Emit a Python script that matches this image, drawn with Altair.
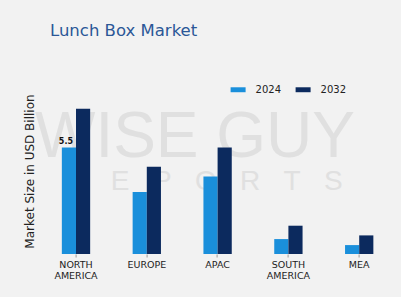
import altair as alt
import pandas as pd

# Market size by region, USD billion
regions = ["NORTH AMERICA", "EUROPE", "APAC", "SOUTH AMERICA", "MEA"]
years = ["2024", "2032"]
values_2024 = [5.5, 3.2, 4.0, 0.77, 0.46]
values_2032 = [7.5, 4.5, 5.5, 1.46, 0.96]
bar_colors = ["#1a8fdb", "#0c2a5e"]

rows = []
for region, v24, v32 in zip(regions, values_2024, values_2032):
    rows.append({"region": region, "year": "2024", "value": v24})
    rows.append({"region": region, "year": "2032", "value": v32})
df = pd.DataFrame(rows)

FONT = "DejaVu Sans"
NBSP = "\u00a0"

x_enc = alt.X(
    "region:N",
    sort=regions,
    title=None,
    scale=alt.Scale(paddingInner=0.6, paddingOuter=0.3),
    axis=alt.Axis(
        labelAngle=0,
        labelExpr="split(datum.label, ' ')",
        domain=False,
        ticks=True,
        tickSize=3,
        tickColor="#9a9a9a",
        labelFont=FONT,
        labelFontSize=9.5,
        labelColor="#222222",
        labelPadding=2,
        labelLineHeight=11,
    ),
)

y_enc = alt.Y(
    "value:Q",
    scale=alt.Scale(domain=[0, 8], nice=False),
    axis=alt.Axis(
        labels=False,
        ticks=False,
        domain=False,
        grid=False,
        title="Market Size in USD Billion",
        titleFont=FONT,
        titleFontSize=12,
        titleFontWeight="normal",
        titleColor="#222222",
        titlePadding=4,
        titleY=72,
    ),
)

# chart heading
heading = alt.Chart(pd.DataFrame({"t": ["Lunch Box Market"]})).mark_text(
    font=FONT, fontSize=16.5, color="#2b5797", align="left", baseline="alphabetic"
).encode(text="t:N", x=alt.value(9.4), y=alt.value(-63.5))

# faint brand watermark behind the bars
mark_big = alt.Chart(pd.DataFrame({"t": ["WISE GUY"]})).mark_text(
    font="Liberation Sans, sans-serif",
    fontSize=64,
    color="#e0e0e0",
    baseline="alphabetic",
    align="center",
).encode(text="t:N", x=alt.value(154.4), y=alt.value(58))

spaced = (NBSP * 3).join("REPORTS")
mark_small = alt.Chart(pd.DataFrame({"t": [spaced]})).mark_text(
    font="Liberation Sans, sans-serif",
    fontSize=28,
    color="#e0e0e0",
    baseline="alphabetic",
    align="center",
).encode(text="t:N", x=alt.value(164.4), y=alt.value(91))

bars = alt.Chart(df).mark_bar().encode(
    x=x_enc,
    xOffset=alt.XOffset("year:N", sort=years),
    y=y_enc,
    color=alt.Color(
        "year:N",
        sort=years,
        scale=alt.Scale(domain=years, range=bar_colors),
        legend=alt.Legend(
            title=None,
            orient="none",
            direction="horizontal",
            legendX=190,
            legendY=-17,
            symbolType="M-1,-0.33L1,-0.33L1,0.33L-1,0.33Z",
            symbolSize=225,
            symbolStrokeWidth=0,
            labelFont=FONT,
            labelFontSize=10,
            labelColor="#222222",
            labelOffset=10,
            columnPadding=14,
            padding=0,
        ),
    ),
)

label = (
    alt.Chart(df)
    .transform_filter("datum.region == 'NORTH AMERICA' && datum.year == '2024'")
    .mark_text(font=FONT, fontSize=8, fontWeight="bold", color="#111111",
               baseline="bottom", dx=-3, dy=-1)
    .encode(
        x=alt.X("region:N", sort=regions),
        xOffset=alt.XOffset("year:N", sort=years),
        y="value:Q",
        text=alt.Text("value:Q", format=".1f"),
    )
)

chart = (
    alt.layer(heading, mark_big, mark_small, bars, label)
    .properties(
        width=354,
        height=155,
        autosize=alt.AutoSizeParams(type="none"),
        padding={"left": 40.6, "top": 99, "right": 6.4, "bottom": 43},
        background="#f2f2f2",
    )
    .configure_view(stroke=None)
)

chart.save("out.html", embed_options={"renderer": "svg", "actions": False})
